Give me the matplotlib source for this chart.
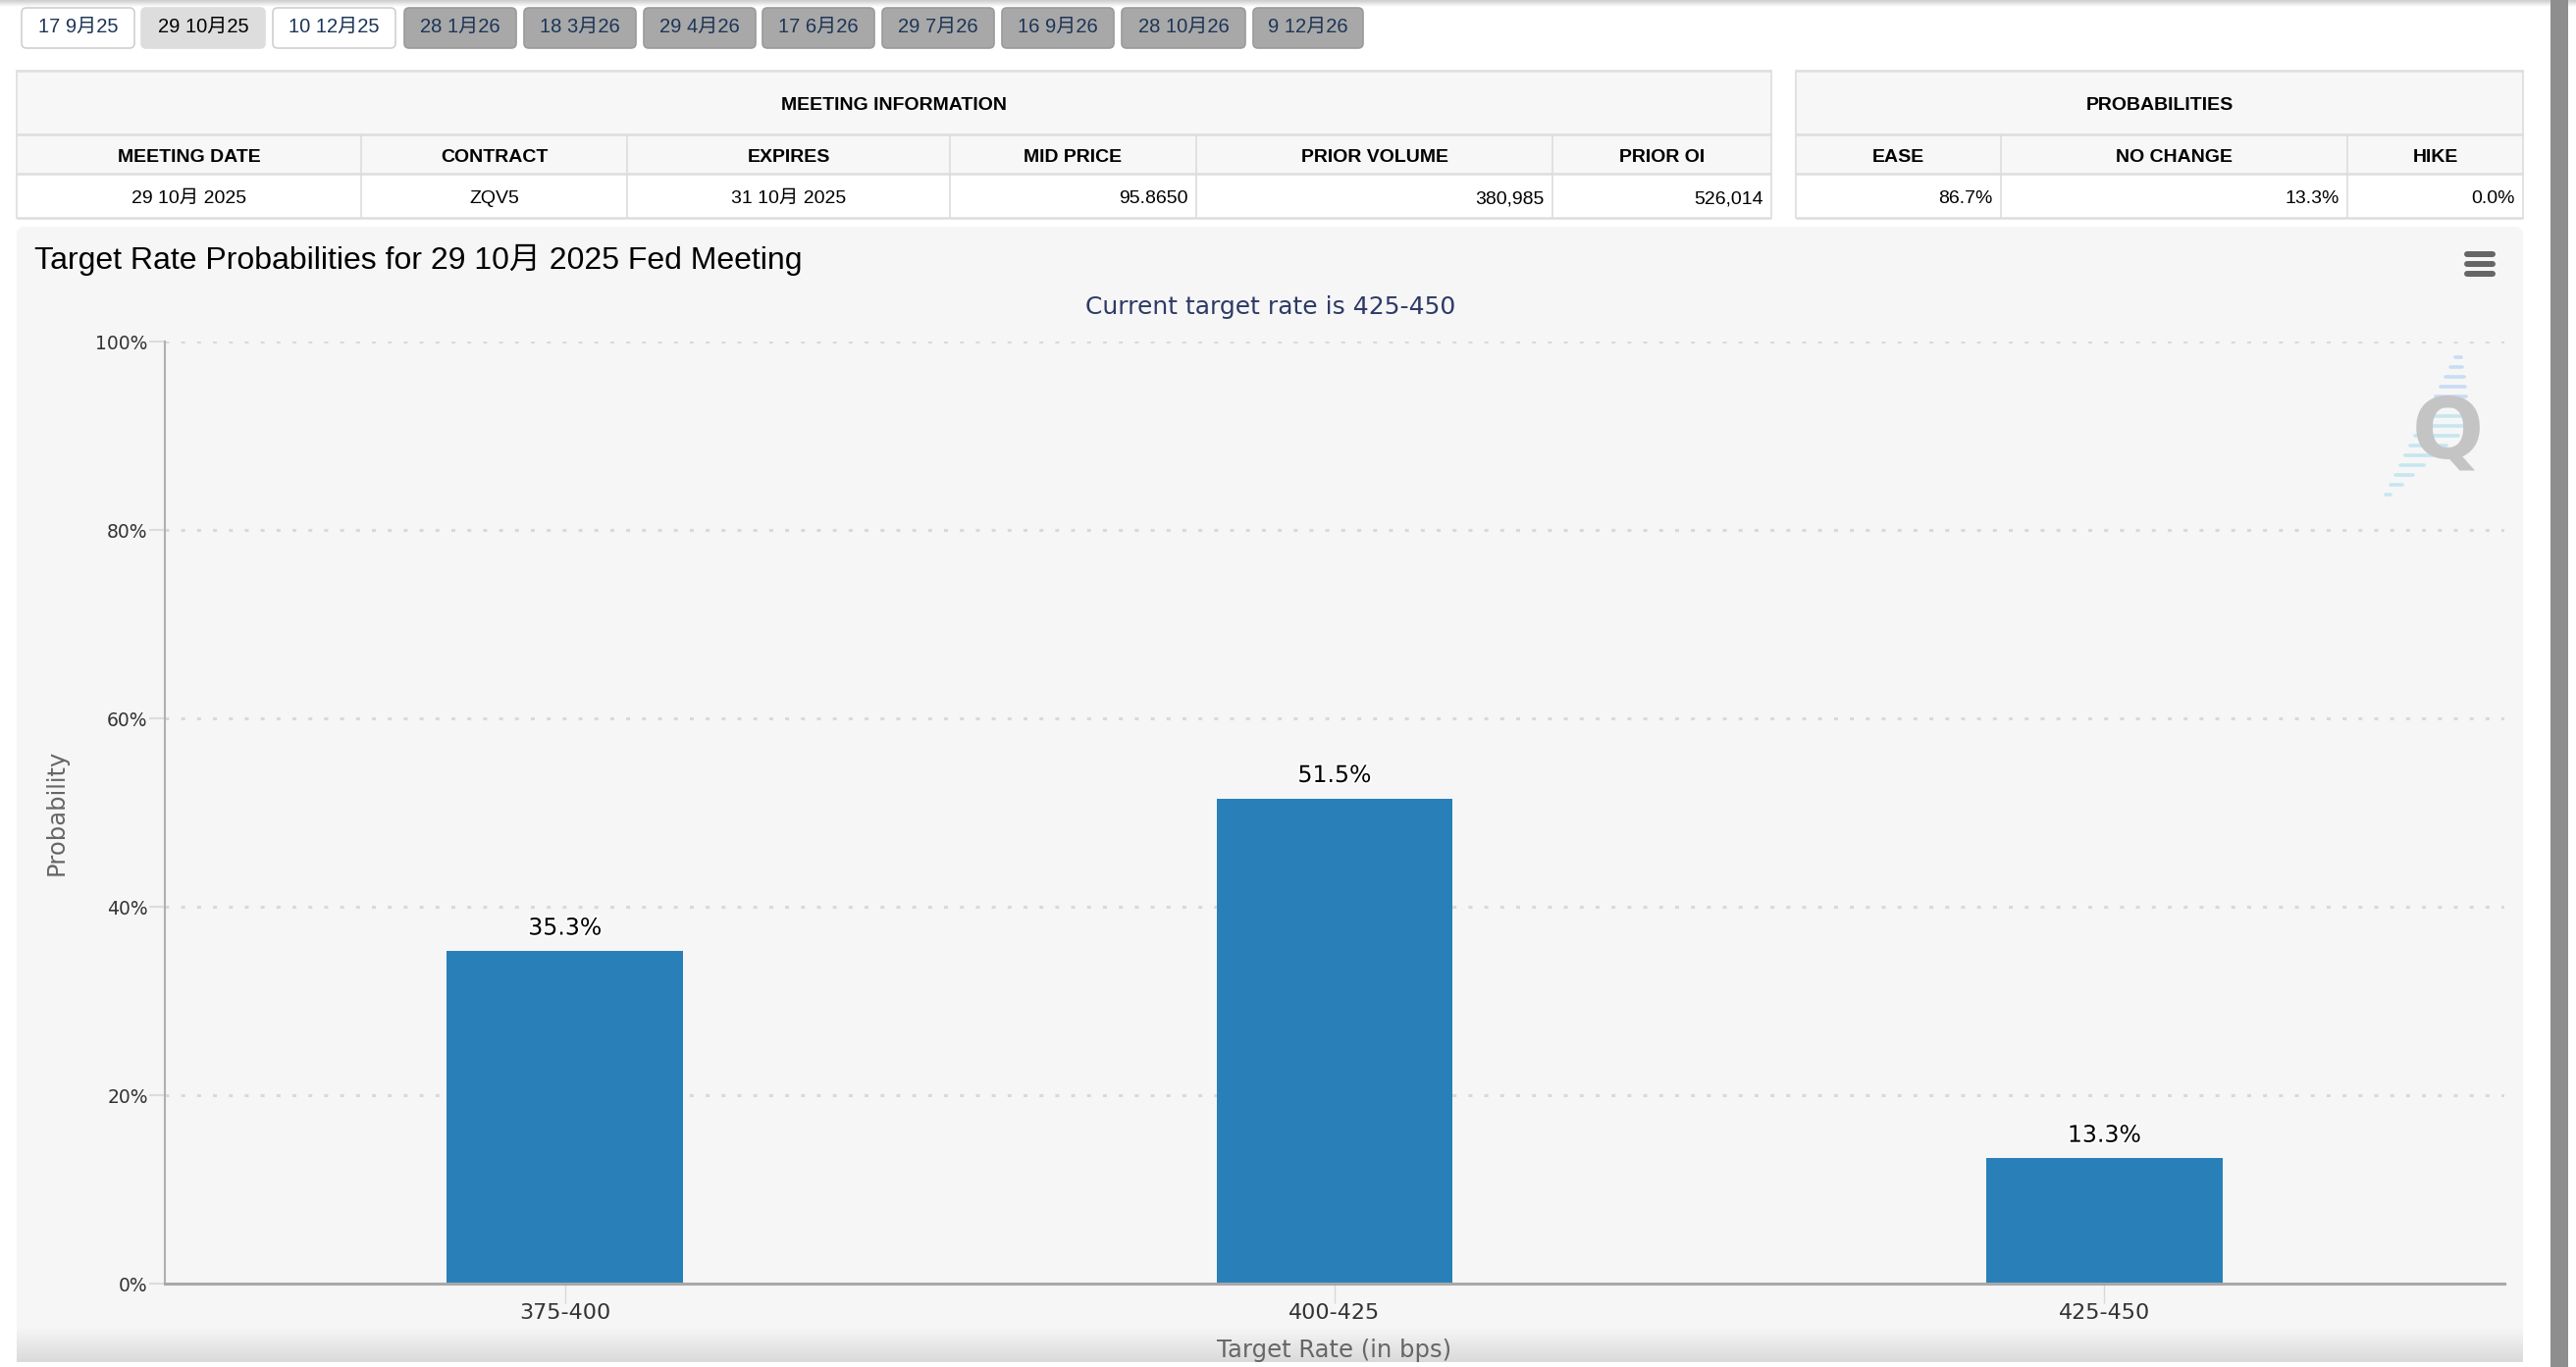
import matplotlib
matplotlib.use('Agg')
import matplotlib.pyplot as plt
import numpy as np
from matplotlib.patches import FancyBboxPatch, Rectangle
import matplotlib.patheffects as pe

# ---------------- data ----------------
tab_labels = ['17 9月25', '29 10月25', '10 12月25', '28 1月26', '18 3月26', '29 4月26',
              '17 6月26', '29 7月26', '16 9月26', '28 10月26', '9 12月26']
selected_tab = 1
meeting_title = 'MEETING INFORMATION'
meeting_headers = ['MEETING DATE', 'CONTRACT', 'EXPIRES', 'MID PRICE', 'PRIOR VOLUME', 'PRIOR OI']
meeting_values = ['29 10月 2025', 'ZQV5', '31 10月 2025', '95.8650', '380,985', '526,014']
prob_title = 'PROBABILITIES'
prob_headers = ['EASE', 'NO CHANGE', 'HIKE']
prob_values = ['86.7%', '13.3%', '0.0%']

chart_title = 'Target Rate Probabilities for 29 10月 2025 Fed Meeting'
chart_subtitle = 'Current target rate is 425-450'
categories = ['375-400', '400-425', '425-450']
probabilities = [35.3, 51.5, 13.3]
y_ticks = [0, 20, 40, 60, 80, 100]
y_label = 'Probability'
x_label = 'Target Rate (in bps)'

# ---------------- layout ----------------
W, H = 2625, 1393
DPI = 100
CJK = ['Liberation Sans', 'Noto Sans CJK SC']
BAR_COLOR = '#2980b9'

fig = plt.figure(figsize=(W / DPI, H / DPI), dpi=DPI)
fig.patch.set_facecolor('white')

bg = fig.add_axes([0, 0, 1, 1], zorder=0)
bg.set_xlim(0, W)
bg.set_ylim(H, 0)
bg.axis('off')

# top shadow
grad = np.linspace(0.80, 1.0, 30).reshape(-1, 1)
bg.imshow(np.dstack([grad, grad, grad]), extent=(0, W, 7, 0), aspect='auto', zorder=0)

# ---------------- tabs ----------------
tab_edges = [(22, 137), (144, 270), (278, 403), (412, 526), (534, 648), (656, 770),
             (777, 891), (899, 1013), (1021, 1135), (1143, 1269), (1277, 1389)]
for i, (lab, (x0, x1)) in enumerate(zip(tab_labels, tab_edges)):
    if i == selected_tab:
        fc, ec, tc = '#dddddd', '#dddddd', '#000000'
    elif i < 3:
        fc, ec, tc = '#ffffff', '#cfcfcf', '#1d3557'
    else:
        fc, ec, tc = '#a8a8a8', '#9a9a9a', '#1d3557'
    bg.add_patch(FancyBboxPatch((x0, 8), x1 - x0, 41,
                                boxstyle='round,pad=0,rounding_size=5',
                                fc=fc, ec=ec, lw=1.2, zorder=2))
    bg.text((x0 + x1) / 2, 33, lab, ha='center', va='baseline', fontsize=14.5,
            color=tc, family=CJK, zorder=3)


# ---------------- tables ----------------
def draw_table(xe, title, headers, values, aligns):
    y0, y1, y2, y3 = 72, 137, 177, 222
    left, right = xe[0], xe[-1]
    bg.add_patch(Rectangle((left, y0), right - left, y2 - y0, fc='#f7f7f7', ec='none', zorder=1))
    bg.add_patch(Rectangle((left, y2), right - left, y3 - y2, fc='#ffffff', ec='none', zorder=1))
    lc = '#dddddd'
    for yy, lw in [(y0, 1.8), (y1, 1.8), (y2, 1.8), (y3, 1.8)]:
        bg.plot([left, right], [yy, yy], color=lc, lw=lw, zorder=2, solid_capstyle='butt')
    bg.plot([left, left], [y0, y3], color=lc, lw=1.2, zorder=2)
    bg.plot([right, right], [y0, y3], color=lc, lw=1.2, zorder=2)
    for xx in xe[1:-1]:
        bg.plot([xx, xx], [y1, y3], color=lc, lw=1.2, zorder=2)
    bg.text((left + right) / 2, 112, title, ha='center', va='baseline', fontsize=14,
            fontweight='bold', family=CJK, zorder=3)
    for j, (hd, val, al) in enumerate(zip(headers, values, aligns)):
        a, b = xe[j], xe[j + 1]
        bg.text((a + b) / 2, 165, hd, ha='center', va='baseline', fontsize=14,
                fontweight='bold', family=CJK, zorder=3)
        if al == 'center':
            xv = (a + b) / 2
        else:
            xv = b - 8
        bg.text(xv, 207, val, ha=al, va='baseline', fontsize=14, family=CJK, zorder=3)


draw_table([17, 368, 639, 968, 1219, 1582, 1805], meeting_title, meeting_headers,
           meeting_values, ['center', 'center', 'center', 'right', 'right', 'right'])
draw_table([1830, 2039, 2392, 2571], prob_title, prob_headers, prob_values,
           ['right', 'right', 'right'])

# ---------------- chart panel ----------------
bg.add_patch(FancyBboxPatch((17, 231), 2554, 1160, boxstyle='round,pad=0,rounding_size=8',
                            fc='#f6f6f6', ec='none', zorder=1))
g2 = np.linspace(0.965, 0.855, 40).reshape(-1, 1)
bg.imshow(np.dstack([g2, g2, g2]), extent=(17, 2571, 1388, 1352), aspect='auto', zorder=1.5)

bg.text(35, 274, chart_title, ha='left', va='baseline', fontsize=23, color='#000000',
        family=CJK, zorder=3)
bg.text(1295, 320, chart_subtitle, ha='center', va='baseline', fontsize=18,
        color='#2e3a66', family='DejaVu Sans', zorder=3)
bg.text(58, 828, y_label, ha='center', va='center', rotation=90, fontsize=17.5,
        color='#666666', family='DejaVu Sans', zorder=3)
bg.text(1360, 1376, x_label, ha='center', va='center', fontsize=17.5,
        color='#666666', family='DejaVu Sans', zorder=3)

# hamburger menu
for yy in (259, 269, 279):
    bg.plot([2514, 2540], [yy, yy], color='#666666', lw=4.3, solid_capstyle='round', zorder=3)

# watermark logo
stripe_y = np.arange(364, 506, 10)
for k, yy in enumerate(stripe_y):
    t = (yy - 362) / (505 - 362)
    xl = 2503 - t * 73
    ln = 45 * (1 - abs(2 * t - 1)) + 5
    col = '#c9dcf4' if t < 0.4 else '#c6e6f0'
    bg.plot([xl, xl + ln], [yy, yy], color=col, lw=2.6, solid_capstyle='round', zorder=2)
bg.text(2494, 443, 'Q', ha='center', va='center', fontsize=62, fontweight='bold',
        color='#c4c4c4', family='DejaVu Sans', zorder=3)

# ---------------- plot ----------------
px0, px1, py_top, py_bot = 168, 2552, 348, 1308
ax = fig.add_axes([px0 / W, (H - py_bot) / H, (px1 - px0) / W, (py_bot - py_top) / H], zorder=1)
ax.patch.set_alpha(0)
xpos = np.arange(len(categories))
ax.bar(xpos, probabilities, width=0.307, color=BAR_COLOR, zorder=3)
ax.set_xlim(-0.52, 2.52)
ax.set_ylim(0, 100)
ax.set_yticks(y_ticks, [f'{t}%' for t in y_ticks])
ax.set_xticks(xpos, categories)
ax.grid(axis='y', color='#d9d9d9', lw=2.2, linestyle=(0, (1.3, 4)), zorder=1)
ax.grid(axis='x', visible=False)
for s in ('top', 'right'):
    ax.spines[s].set_visible(False)
ax.spines['left'].set_color('#b0b0b0')
ax.spines['left'].set_linewidth(1.5)
ax.spines['bottom'].set_color('#a8a8a8')
ax.spines['bottom'].set_linewidth(2.2)
ax.spines['bottom'].set_zorder(4)
ax.tick_params(axis='y', direction='out', length=11.5, width=1.5, color='#dcdcdc',
               labelsize=13.5, labelcolor='#333333', pad=1)
ax.tick_params(axis='x', direction='out', length=14.4, width=1.0, color='#d8d8d8',
               labelsize=16, labelcolor='#333333', pad=0)
for lab in ax.get_xticklabels() + ax.get_yticklabels():
    lab.set_family('DejaVu Sans')

for xi, v in zip(xpos, probabilities):
    ax.annotate(f'{v}%', (xi, v), xytext=(0, 12), textcoords='offset points',
                ha='center', va='baseline', fontsize=17, color='#000000',
                family='DejaVu Sans', zorder=5,
                path_effects=[pe.withStroke(linewidth=2.5, foreground='white')])

# ---------------- top overlay ----------------
top = fig.add_axes([0, 0, 1, 1], zorder=5)
top.set_xlim(0, W)
top.set_ylim(H, 0)
top.axis('off')
top.patch.set_alpha(0)
top.add_patch(Rectangle((0, 1388), 2599, 10, fc='white', ec='none'))
top.add_patch(Rectangle((2599, 0), 18, H, fc='#8e8e8e', ec='none'))

fig.savefig('out.png', dpi=DPI, facecolor='white')
